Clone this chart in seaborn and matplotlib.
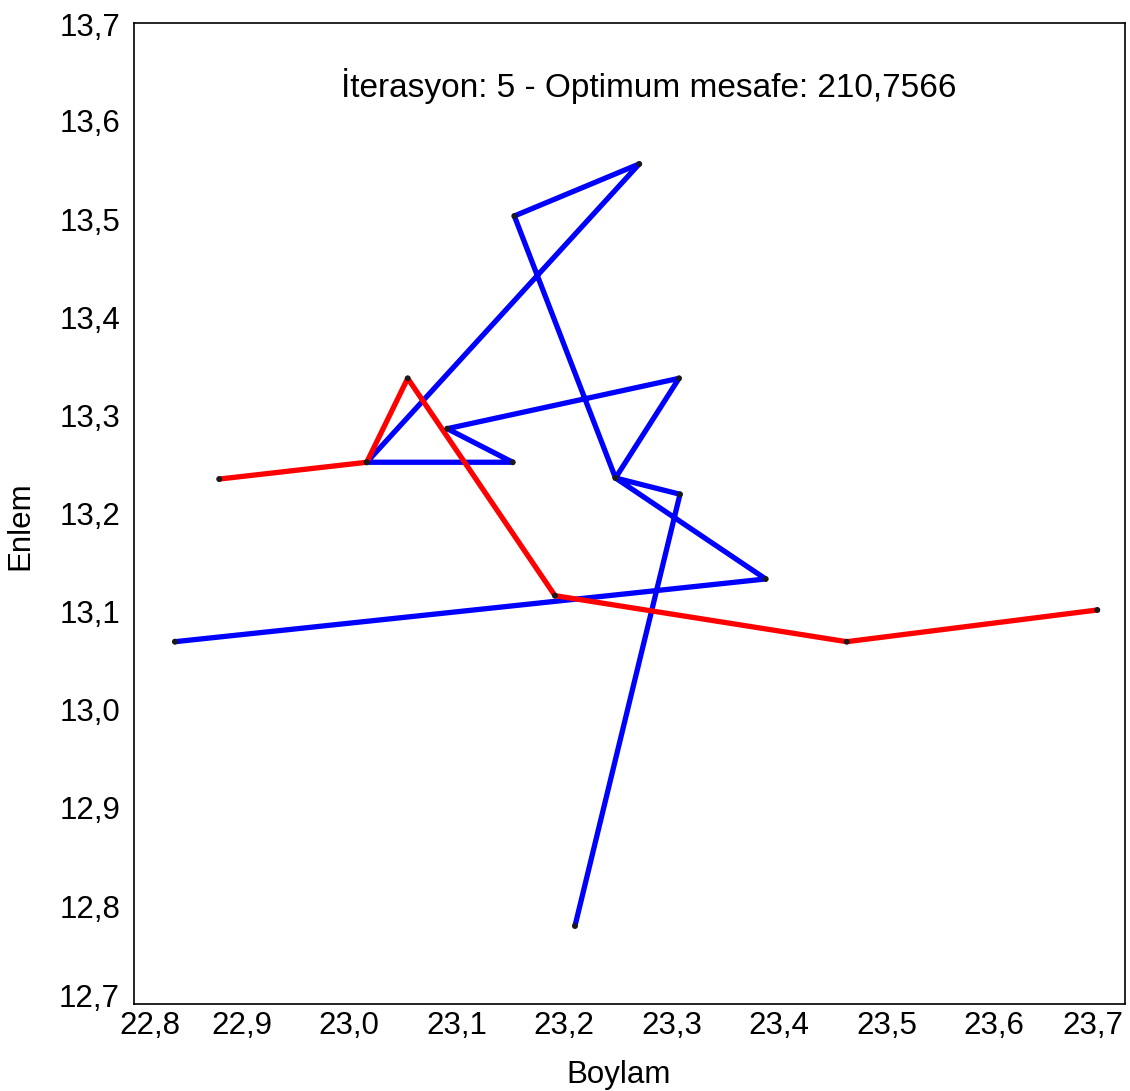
import matplotlib
matplotlib.use("Agg")
import matplotlib.pyplot as plt
import seaborn as sns
import numpy as np

# ---- data ----
title_text = "İterasyon: 5 - Optimum mesafe: 210,7566"
x_label = "Boylam"
y_label = "Enlem"

blue_lon = [22.8381, 23.3876, 23.2479, 23.3070, 23.0914, 23.1523, 23.0165,
            23.2700, 23.1538, 23.2479, 23.3079, 23.2102]
blue_lat = [13.0694, 13.1333, 13.2362, 13.3377, 13.2864, 13.2522, 13.2522,
            13.5561, 13.5031, 13.2362, 13.2196, 12.7798]

red_lon = [22.8793, 23.0165, 23.0546, 23.1916, 23.4630, 23.6961]
red_lat = [13.2351, 13.2522, 13.3377, 13.1163, 13.0694, 13.1017]

x_tick_values = [22.8, 22.9, 23.0, 23.1, 23.2, 23.3, 23.4, 23.5, 23.6, 23.7]
x_tick_labels = ["22,8", "22,9", "23,0", "23,1", "23,2", "23,3", "23,4", "23,5", "23,6", "23,7"]
y_tick_values = [12.7, 12.8, 12.9, 13.0, 13.1, 13.2, 13.3, 13.4, 13.5, 13.6, 13.7]
y_tick_labels = ["12,7", "12,8", "12,9", "13,0", "13,1", "13,2", "13,3", "13,4", "13,5", "13,6", "13,7"]

# ---- layout ----
W, H, DPI = 1130, 1091, 100
x_min, x_max = 22.8, 22.8 + (1125 - 134) / 1075.0
y_min, y_max = 12.7, 13.7
x_px_per_unit = 1075.0
y_px_per_unit = 981.6

sns.set_theme(style="white")
plt.rcParams["font.family"] = ["Liberation Sans", "DejaVu Sans"]

fig = plt.figure(figsize=(W / DPI, H / DPI), dpi=DPI)
ax = fig.add_axes([134 / W, 1 - 1004.3 / H, (1125 - 134) / W, (1004.3 - 22.7) / H])
ax.set_facecolor("white")

sns.lineplot(x=blue_lon, y=blue_lat, sort=False, estimator=None, color="#0000FF",
             linewidth=3.8, ax=ax, zorder=2)
sns.lineplot(x=red_lon, y=red_lat, sort=False, estimator=None, color="#FF0000",
             linewidth=3.8, ax=ax, zorder=3)
sns.scatterplot(x=blue_lon + red_lon, y=blue_lat + red_lat, color="#1a1a1a", s=18,
                edgecolor="none", ax=ax, zorder=4)

ax.set_xlim(x_min, x_max)
ax.set_ylim(y_min, y_max)

# tick marks (minor, inward, unlabeled)
ax.set_xticks(x_tick_values[1:-1], minor=True)
ax.set_yticks(y_tick_values[1:-1], minor=True)
ax.tick_params(axis="x", which="minor", direction="in", length=9.5, width=1.1,
               color="black", bottom=True, labelbottom=False)
ax.tick_params(axis="y", which="minor", direction="in", length=5, width=1.1,
               color="black", left=True, labelleft=False)

# tick labels (major, zero length); end labels nudged inward as in the reference
x_label_pos = list(x_tick_values)
x_label_pos[0] += 16 / x_px_per_unit
x_label_pos[-1] -= 9 / x_px_per_unit
y_label_pos = list(y_tick_values)
y_label_pos[0] += 8.3 / y_px_per_unit
y_label_pos[-1] -= 2 / y_px_per_unit
ax.set_xticks(x_label_pos)
ax.set_xticklabels(x_tick_labels)
ax.set_yticks(y_label_pos)
ax.set_yticklabels(y_tick_labels)
ax.tick_params(axis="x", which="major", length=0, pad=5, labelsize=22.5, labelcolor="black")
ax.tick_params(axis="y", which="major", length=0, pad=10, labelsize=22.5, labelcolor="black")

for s in ax.spines.values():
    s.set_visible(True)
    s.set_color("black")
    s.set_linewidth(1.2)

ax.set_xlabel(x_label, fontsize=22.5, color="black")
ax.set_ylabel(y_label, fontsize=22.5, color="black")
ax.xaxis.set_label_coords(0.489, -0.057)
ax.yaxis.set_label_coords(-0.1, 0.488)

ax.text(0.519, 0.9355, title_text, transform=ax.transAxes, ha="center", va="center",
        fontsize=24, color="black")

ax.grid(False)
fig.savefig("out.png", dpi=DPI)
